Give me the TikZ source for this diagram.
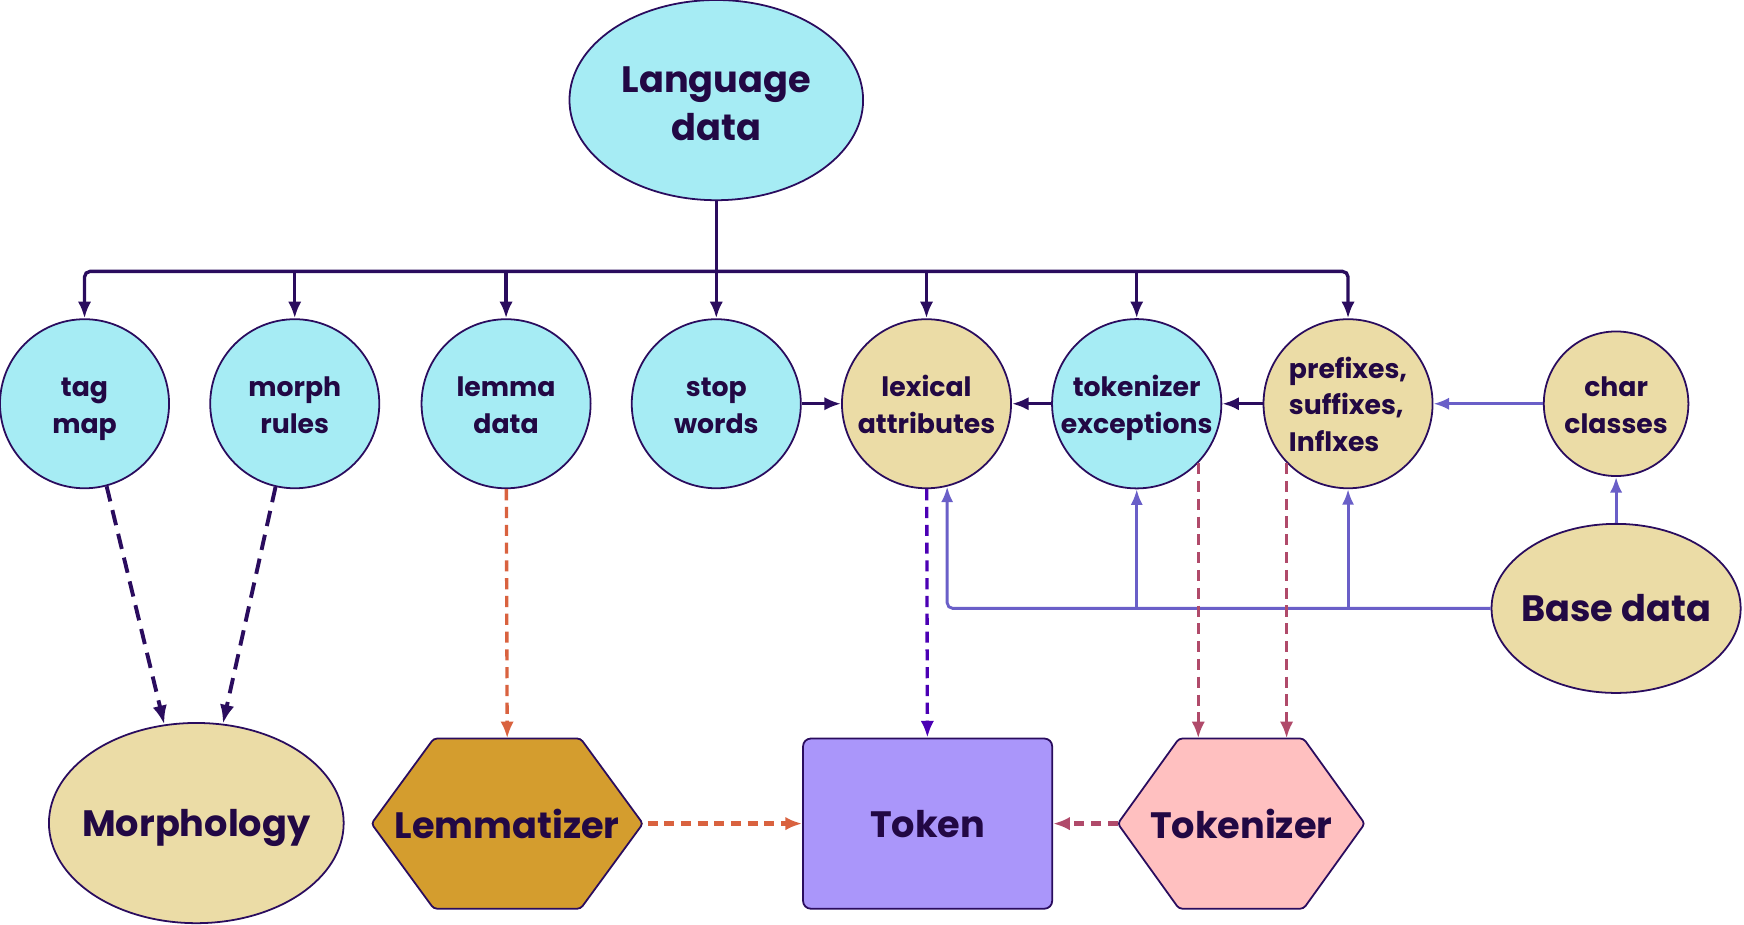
\documentclass[tikz,border=0pt]{standalone}
\usepackage{fontspec}
\setmainfont{Poppins}
\usetikzlibrary{arrows.meta,shapes.geometric,calc}
\definecolor{cyanf}{HTML}{A6ECF4}
\definecolor{tanf}{HTML}{EBDCA6}
\definecolor{bord}{HTML}{2A0C5E}
\definecolor{txt}{HTML}{220844}
\definecolor{lemf}{HTML}{D49D2E}
\definecolor{tokf}{HTML}{AA96FA}
\definecolor{tkzf}{HTML}{FFC0C0}
\definecolor{basec}{HTML}{6A5FC8}
\definecolor{orng}{HTML}{D9623F}
\definecolor{viol}{HTML}{4B00B4}
\definecolor{mauv}{HTML}{B04A6A}
\newcommand{\tp}{\rule{0pt}{28pt}}
\newcommand{\bt}{\rule[-8pt]{0pt}{8pt}}
\begin{document}
\begin{tikzpicture}[x=1pt,y=-1pt,
  every node/.style={text=txt,font=\bfseries},
  circ/.style={circle,draw=bord,line width=1.6pt,minimum size=152pt,inner sep=0pt,align=center,font=\bfseries\fontsize{24}{33}\selectfont},
  bigell/.style={ellipse,draw=bord,line width=1.6pt,inner sep=0pt,align=center,font=\bfseries\fontsize{33}{43}\selectfont},
  dk/.style={draw=bord,line width=3pt,-{Latex[length=15pt,width=12pt]}},
  lt/.style={draw=basec,line width=2.6pt,-{Latex[length=14pt,width=11pt]}},
  dsh/.style={line width=3pt,dash pattern=on 10pt off 6pt,-{Latex[length=15pt,width=12pt]}},
  hexf/.style={draw=bord,line width=1.6pt},
  lbl/.style={font=\bfseries\fontsize{33}{40}\selectfont}
]
\useasboundingbox (0,0) rectangle (1568,831.6);

% top node
\node[bigell,fill=cyanf,minimum width=264pt,minimum height=180pt] (lang) at (644,90) {\rule{0pt}{30pt}Language\\data};

% circles
\node[circ,fill=cyanf] (tag) at (76,363) {\tp tag\\map\bt};
\node[circ,fill=cyanf] (morph) at (265,363) {\tp morph\\rules\bt};
\node[circ,fill=cyanf] (lemma) at (455,363) {\tp lemma\\data\bt};
\node[circ,fill=cyanf] (stop) at (644,363) {\tp stop\\words\bt};
\node[circ,fill=tanf] (lex) at (833,363) {\tp lexical\\attributes\bt};
\node[circ,fill=cyanf] (tokex) at (1022,363) {\tp tokenizer\\exceptions\bt};
\node[circ,fill=tanf,align=left] (pref) at (1212,363) {\tp prefixes,\\suffixes,\\Inflxes\bt};
\node[circ,fill=tanf,minimum size=130pt] (char) at (1453,363) {\tp char\\classes\bt};

% base data
\node[bigell,fill=tanf,minimum width=224pt,minimum height=152pt] (base) at (1453,547) {};
\node[lbl] (basetxt) at (base) {Base data};

% bottom row
\node[bigell,fill=tanf,minimum width=265pt,minimum height=180pt] (morpho) at (176.5,740) {};
\node[lbl,yshift=-4pt] (morphotxt) at (morpho) {Morphology};

\fill[lemf] (334,740.5) -- (390,664) -- (522,664) -- (578,740.5) -- (522,817) -- (390,817) -- cycle;
\draw[hexf,rounded corners=3pt] (334,740.5) -- (390,664) -- (522,664) -- (578,740.5) -- (522,817) -- (390,817) -- cycle;
\node[lbl,minimum width=244pt,minimum height=153pt,inner sep=0pt] (lemz) at (456,740.5) {Lemmatizer};

\node[lbl,draw=bord,line width=1.6pt,fill=tokf,rounded corners=7pt,minimum width=224pt,minimum height=153pt,inner sep=0pt] (token) at (834,740.5) {Token};

\fill[tkzf] (1005,740.5) -- (1060,664) -- (1172,664) -- (1227,740.5) -- (1172,817) -- (1060,817) -- cycle;
\draw[hexf,rounded corners=3pt] (1005,740.5) -- (1060,664) -- (1172,664) -- (1227,740.5) -- (1172,817) -- (1060,817) -- cycle;
\node[lbl,minimum width=222pt,minimum height=153pt,inner sep=0pt] (tokz) at (1116,740.5) {Tokenizer};

% bus
\coordinate (busy) at (644,244);
\draw[dk] (lang) -- (stop);
\draw[dk,rounded corners=5pt] (busy) -| (tag);
\draw[dk,rounded corners=5pt] (busy) -| (pref);
\draw[dk] (morph |- busy) -- (morph);
\draw[dk] (lemma |- busy) -- (lemma);
\draw[dk] (lex |- busy) -- (lex);
\draw[dk] (tokex |- busy) -- (tokex);

% horizontal links
\draw[dk] (stop) -- (lex);
\draw[dk] (tokex) -- (lex);
\draw[dk] (pref) -- (tokex);
\draw[lt] (char) -- (pref);

% base data links
\draw[lt] (base) -- (char);
\draw[lt,rounded corners=5pt] (base.west) -| (lex.-76);
\draw[lt] (tokex |- base.west) -- (tokex);
\draw[lt] (pref |- base.west) -- (pref);

% dashed
\draw[dsh,draw=bord,line width=3.5pt,dash pattern=on 14pt off 8pt,-{Latex[length=17pt,width=13pt]}] (tag.-75) -- (morpho.108);
\draw[dsh,draw=bord,line width=3.5pt,dash pattern=on 14pt off 8pt,-{Latex[length=17pt,width=13pt]}] (morph.-103) -- (morpho.75);
\draw[dsh,draw=orng] (lemma) -- (lemz.north);
\draw[dsh,draw=viol] (lex) -- (token);
\draw[dsh,draw=mauv] (tokex.-44) -- (tokex.-44 |- tokz.north);
\draw[dsh,draw=mauv] (pref.-136) -- (pref.-136 |- tokz.north);
\draw[dsh,draw=orng,line width=4pt,dash pattern=on 9pt off 6pt] (lemz.east) ++(4,0) -- (token.west);
\draw[dsh,draw=mauv,line width=4pt,dash pattern=on 9pt off 6pt] (tokz.west) -- (token.east);
\end{tikzpicture}
\end{document}
